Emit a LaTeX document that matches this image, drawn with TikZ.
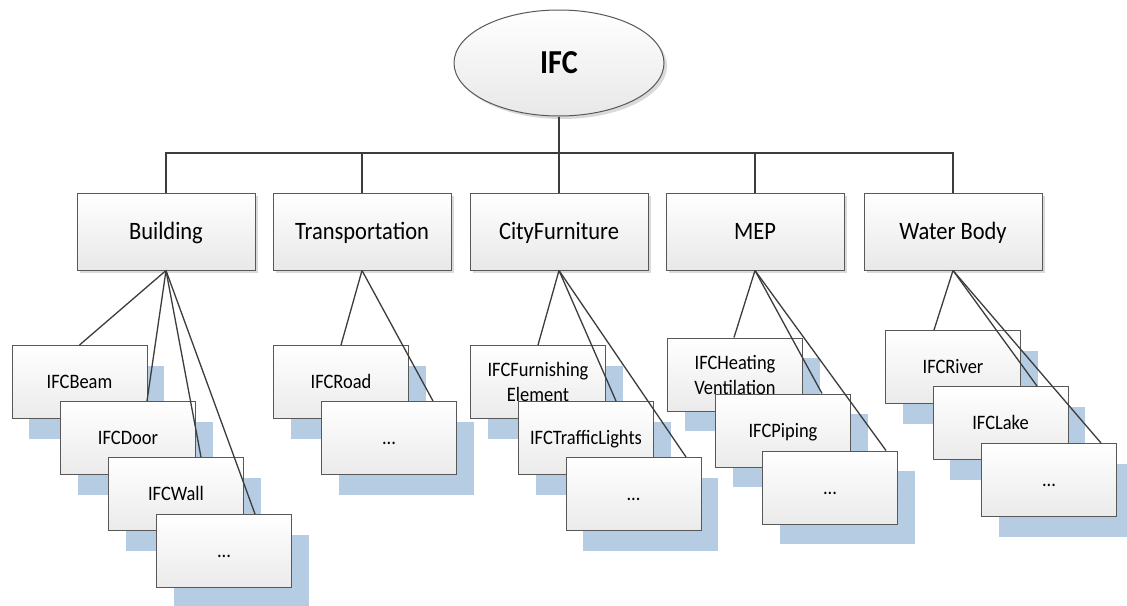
\documentclass[tikz,border=0pt]{standalone}
\usepackage{fontspec}
\setmainfont{Carlito}[FakeStretch=0.9]
\usetikzlibrary{shapes.geometric,shadows,calc}
\definecolor{shblue}{RGB}{181,204,227}
\definecolor{edgegray}{RGB}{88,88,88}
\definecolor{wiregray}{RGB}{60,60,60}
\definecolor{shgray}{RGB}{218,218,218}
\begin{document}
\begin{tikzpicture}[x=1pt,y=-1pt,
  rootnode/.style={ellipse, draw=edgegray, line width=1pt, top color=white, bottom color=black!9,
    minimum width=210pt, minimum height=106pt, inner sep=0pt,
    font=\bfseries\fontsize{33.5}{40}\selectfont, text height=21.2pt, text depth=0pt,
    general shadow={shadow xshift=3pt, shadow yshift=-3pt, fill=shgray}},
  catbox/.style={draw=edgegray, line width=1pt, top color=white, bottom color=black!9,
    minimum width=178pt, minimum height=77pt, inner sep=0pt,
    font=\fontsize{25}{30}\selectfont, text height=15.8pt, text depth=0pt,
    general shadow={shadow xshift=3pt, shadow yshift=-3pt, fill=shgray}},
  childbox/.style={draw=edgegray, line width=1pt, top color=white, bottom color=black!8,
    minimum width=135pt, minimum height=73pt, inner sep=0pt, align=center,
    font=\fontsize{20.5}{25}\selectfont,
    general shadow={shadow xshift=17pt, shadow yshift=-20pt, fill=shblue}},
  oneline/.style={text height=13pt, text depth=0pt},
  wire/.style={draw=wiregray, line width=1.3pt}]
\useasboundingbox[fill=white] (0,0) rectangle (1127,605);

% root
\node[rootnode] (ifc) at (559,63) {IFC};

% categories
\node[catbox] (building) at (166,231.5) {Building};
\node[catbox] (transport) at (362,231.5) {Transportation};
\node[catbox] (city) at (559,231.5) {CityFurniture};
\node[catbox] (mep) at (755,231.5) {MEP};
\node[catbox] (water) at (953,231.5) {Water Body};

% bus
\coordinate (bus) at (0,153);
\draw[wire] (building.north) -- (building.north |- bus) -- (water.north |- bus) -- (water.north);
\draw[wire] (ifc.south) -- (city.north);
\draw[wire] (transport.north) -- (transport.north |- bus);
\draw[wire] (mep.north) -- (mep.north |- bus);

% Building children
\node[childbox,oneline] (beam) at (79.5,382) {IFCBeam};
\node[childbox,oneline] (door) at (128,438) {IFCDoor};
\node[childbox,oneline] (wall) at (176,494) {IFCWall};
\node[childbox,oneline] (bdots) at (224,551) {...};

% Transportation children
\node[childbox,oneline] (road) at (341,382) {IFCRoad};
\node[childbox,oneline] (tdots) at (389,438) {...};

% CityFurniture children
\node[childbox] (furn) at (538,382) {IFCFurnishing\\Element};
\node[childbox,oneline] (traffic) at (586,438) {IFCTrafficLights};
\node[childbox,oneline] (cdots) at (633.5,494) {...};

% MEP children
\node[childbox] (heat) at (735,374.5) {IFCHeating\\Ventilation};
\node[childbox,oneline] (piping) at (783,430.5) {IFCPiping};
\node[childbox,oneline] (mdots) at (830,487.5) {...};

% Water Body children
\node[childbox,oneline] (river) at (953,367) {IFCRiver};
\node[childbox,oneline] (lake) at (1000.5,423) {IFCLake};
\node[childbox,oneline] (wdots) at (1049,480) {...};

% connectors
\draw[wire] (building.south) -- (beam.north);
\draw[wire] (building.south) -- ($(door.north)+(19,0)$);
\draw[wire] (building.south) -- ($(wall.north)+(25,0)$);
\draw[wire] (building.south) -- ($(bdots.north)+(31,0)$);

\draw[wire] (transport.south) -- (road.north);
\draw[wire] (transport.south) -- ($(tdots.north)+(44,0)$);

\draw[wire] (city.south) -- (furn.north);
\draw[wire] (city.south) -- ($(traffic.north)+(30,0)$);
\draw[wire] (city.south) -- ($(cdots.north)+(52.5,0)$);

\draw[wire] (mep.south) -- ($(heat.north)+(-1,0)$);
\draw[wire] (mep.south) -- ($(piping.north)+(39,0)$);
\draw[wire] (mep.south) -- ($(mdots.north)+(56,0)$);

\draw[wire] (water.south) -- ($(river.north)+(-19,0)$);
\draw[wire] (water.south) -- ($(lake.north)+(36.5,0)$);
\draw[wire] (water.south) -- ($(wdots.north)+(52,0)$);
\end{tikzpicture}
\end{document}
